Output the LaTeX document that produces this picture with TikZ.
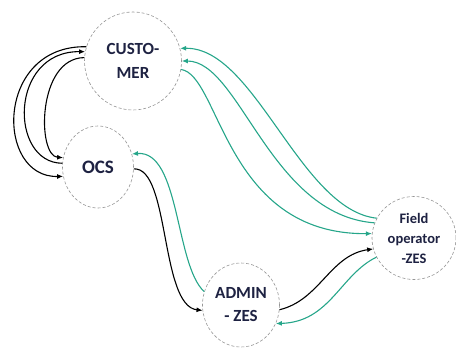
\documentclass[tikz,border=0pt]{standalone}
\usepackage{fontspec}
\setmainfont{Carlito}
\usetikzlibrary{arrows.meta,shapes.geometric}
\definecolor{teal}{RGB}{38,166,138}
\definecolor{labelink}{RGB}{30,34,66}
\definecolor{ringgray}{RGB}{150,150,150}
\tikzset{
  actor/.style={ellipse, draw=ringgray, line width=0.6pt, dash pattern=on 3pt off 2pt,
    fill=white, inner sep=0pt, text=labelink, font=\bfseries, align=center},
  blk/.style={draw=black, line width=1.1pt, -{Latex[length=6pt,width=5pt]}},
  grn/.style={draw=teal, line width=1.1pt, -{Latex[length=6pt,width=5pt]}},
}
\begin{document}
\begin{tikzpicture}[x=1pt,y=-1pt]
\useasboundingbox (0,0) rectangle (456,348);

% actors
\node[actor, minimum width=97pt, minimum height=98pt, font=\bfseries\fontsize{17}{24}\selectfont] (cust) at (133,61) {CUSTO-\\MER};
\node[actor, minimum width=71pt, minimum height=82pt, font=\bfseries\fontsize{19}{22}\selectfont] (ocs) at (98,167) {OCS};
\node[actor, minimum width=77pt, minimum height=84pt, font=\bfseries\fontsize{17}{23}\selectfont] (admin) at (241,305) {ADMIN\\- ZES};
\node[actor, minimum width=84pt, minimum height=83pt, font=\bfseries\fontsize{14.5}{20}\selectfont] (field) at (414,238) {Field\\operator\\-ZES};

% CUSTOMER <-> OCS on the left
\draw[blk] (cust.163) .. controls (-5,45) and (-5,178) .. (ocs.195);
\draw[blk] (ocs.174) .. controls (9,163) and (9,51) .. (cust.169);
\draw[blk] (cust.176) .. controls (37,58) and (37,156) .. (ocs.165);

% Field operator <-> CUSTOMER
\draw[grn] (field.152) .. controls (300,210) and (255,47) .. (cust.15);
\draw[grn] (field.159) .. controls (270,215) and (240,61) .. (cust.0);
\draw[grn] (cust.-10) .. controls (220,75) and (225,235) .. (field.174);

% OCS <-> ADMIN
\draw[blk] (ocs.-3) .. controls (170,167) and (160,306) .. (admin.188);
\draw[grn] (admin.160) .. controls (175,265) and (180,150) .. (ocs.21);

% ADMIN <-> Field operator
\draw[blk] (admin.-7) .. controls (320,300) and (330,255) .. (field.195);
\draw[grn] (field.207) .. controls (340,275) and (330,322) .. (admin.-28);
\end{tikzpicture}
\end{document}
